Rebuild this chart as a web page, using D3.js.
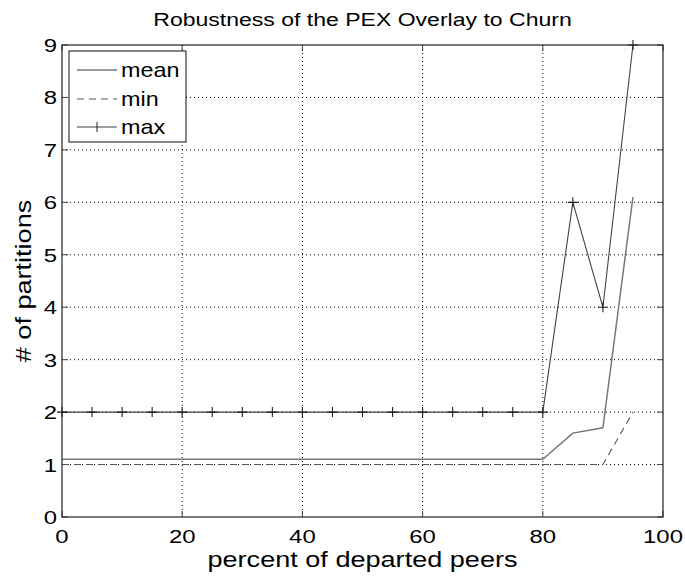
<!DOCTYPE html>
<html><head><meta charset="utf-8">
<script src="https://cdn.jsdelivr.net/npm/d3@7"></script>
<style>body{margin:0;background:#fff}svg{display:block;font-family:"Liberation Sans",Arial,sans-serif}</style>
</head><body><svg id="c" width="685" height="579"></svg>
<script>
const xValues = [0,5,10,15,20,25,30,35,40,45,50,55,60,65,70,75,80,85,90,95];
const meanValues = [1.1,1.1,1.1,1.1,1.1,1.1,1.1,1.1,1.1,1.1,1.1,1.1,1.1,1.1,1.1,1.1,1.1,1.6,1.7,6.1];
const minValues = [1,1,1,1,1,1,1,1,1,1,1,1,1,1,1,1,1,1,1,2];
const maxValues = [2,2,2,2,2,2,2,2,2,2,2,2,2,2,2,2,2,6,4,9];
const xTicks = [0,20,40,60,80,100];
const yTicks = [0,1,2,3,4,5,6,7,8,9];

const svg = d3.select("#c");
const L=62,R=663,T=45,B=517;
const x = d3.scaleLinear().domain([0,100]).range([L,R]);
const y = d3.scaleLinear().domain([0,9]).range([B,T]);
const SX = 1.23;

function txt(parent, str, tx, ty, size, anchor, rot, sx){
  return parent.append("text")
    .attr("transform", `translate(${tx},${ty})${rot?` rotate(${rot})`:""} scale(${sx||SX},1)`)
    .attr("text-anchor", anchor||"start").attr("font-size", size).attr("fill","#000").text(str);
}

// grid
const g = svg.append("g");
g.selectAll(".gx").data(xTicks.filter(d=>d>0&&d<100)).join("line")
 .attr("x1",d=>x(d)).attr("x2",d=>x(d)).attr("y1",T).attr("y2",B)
 .attr("stroke","#000").attr("stroke-width",1).attr("stroke-dasharray","1,3");
g.selectAll(".gy").data(yTicks.filter(d=>d>0&&d<9)).join("line")
 .attr("x1",L).attr("x2",R).attr("y1",d=>y(d)).attr("y2",d=>y(d))
 .attr("stroke","#000").attr("stroke-width",1).attr("stroke-dasharray","1,3");

// ticks inside
const tl=6;
xTicks.forEach(d=>{
  svg.append("line").attr("x1",x(d)).attr("x2",x(d)).attr("y1",B).attr("y2",B-tl).attr("stroke","#444");
  svg.append("line").attr("x1",x(d)).attr("x2",x(d)).attr("y1",T).attr("y2",T+tl).attr("stroke","#444");
});
yTicks.forEach(d=>{
  svg.append("line").attr("x1",L).attr("x2",L+tl).attr("y1",y(d)).attr("y2",y(d)).attr("stroke","#444");
  svg.append("line").attr("x1",R).attr("x2",R-tl).attr("y1",y(d)).attr("y2",y(d)).attr("stroke","#444");
});

// lines
const line = vals => d3.line().x((d,i)=>x(xValues[i])).y(d=>y(d))(vals);
svg.append("path").attr("d",line(meanValues)).attr("fill","none").attr("stroke","#777").attr("stroke-width",1.5);
svg.append("path").attr("d",line(minValues)).attr("fill","none").attr("stroke","#555").attr("stroke-width",1.1).attr("stroke-dasharray","7,5");
svg.append("path").attr("d",line(maxValues)).attr("fill","none").attr("stroke","#444").attr("stroke-width",1.1);
const ms=5;
svg.append("g").selectAll("path").data(maxValues).join("path")
 .attr("d",(d,i)=>{const px=x(xValues[i]),py=y(d);return `M${px-ms},${py}H${px+ms}M${px},${py-ms}V${py+ms}`;})
 .attr("stroke","#222").attr("stroke-width",1.1);

// box
svg.append("rect").attr("x",L).attr("y",T).attr("width",R-L).attr("height",B-T).attr("fill","none").attr("stroke","#222").attr("stroke-width",1.2);

// tick labels
xTicks.forEach(d=>txt(svg, d, x(d), 543, 19, "middle", 0, 1.26));
yTicks.forEach(d=>txt(svg, d, L-5, y(d)+7, 19, "end", 0, 1.26));

// labels
txt(svg, "percent of departed peers", (L+R)/2, 567, 21.5, "middle", 0, 1.26);
txt(svg, "# of partitions", 31, (T+B)/2, 22, "middle", -90);
txt(svg, "Robustness of the PEX Overlay to Churn", (L+R)/2, 26, 18, "middle", 0, 1.28);

// legend
const lg = svg.append("g");
lg.append("rect").attr("x",69).attr("y",51).attr("width",117).attr("height",91).attr("fill","#fff").attr("stroke","#222").attr("stroke-width",1.1);
const leg=[{n:"mean",y:70,s:"#777",w:1.5,da:null,m:false},{n:"min",y:99,s:"#555",w:1.1,da:"7,5",m:false},{n:"max",y:127,s:"#444",w:1.1,da:null,m:true}];
leg.forEach(e=>{
  lg.append("line").attr("x1",77).attr("x2",117).attr("y1",e.y).attr("y2",e.y).attr("stroke",e.s).attr("stroke-width",e.w).attr("stroke-dasharray",e.da);
  if(e.m) lg.append("path").attr("d",`M97,${e.y-5}V${e.y+5}`).attr("stroke","#222");
  txt(lg, e.n, 121, e.y+7, 20, "start", 0, 1.17);
});
</script></body></html>
